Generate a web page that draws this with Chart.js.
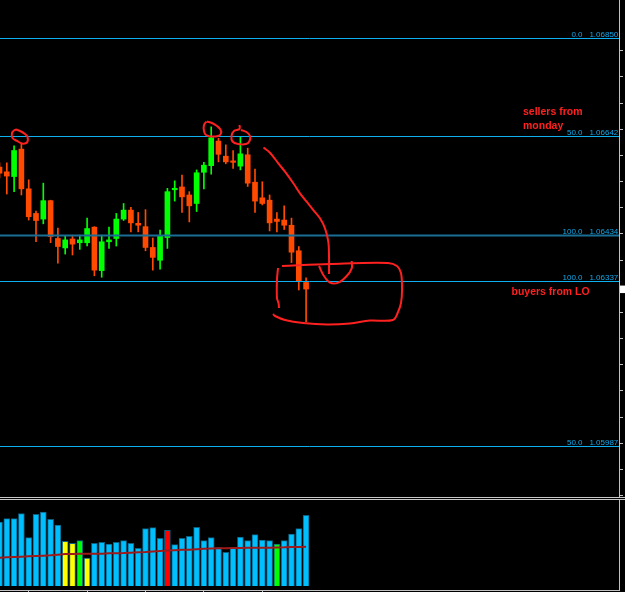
<!DOCTYPE html>
<html>
<head>
<meta charset="utf-8">
<script src="https://cdn.jsdelivr.net/npm/chart.js@4.4.0/dist/chart.umd.min.js"></script>
<style>
  html, body { margin: 0; padding: 0; background: #000; overflow: hidden; }
  #wrap { position: relative; width: 625px; height: 592px; }
  #boxPreco { position: absolute; left: 0; top: 0; width: 625px; height: 497px; }
  #boxVolume { position: absolute; left: 0; top: 500px; width: 625px; height: 94px; }
  .sep { position: absolute; left: 0; width: 625px; height: 1px; background: #c8c8c8; }
</style>
</head>
<body>
<div id="wrap">
  <div id="boxPreco"><canvas id="grafPreco"></canvas></div>
  <div class="sep" style="top:497px"></div>
  <div class="sep" style="top:499px"></div>
  <div id="boxVolume"><canvas id="grafVolume"></canvas></div>
</div>
<script>
// Velas (OHLC), uma por barra
const abertura = [1.06577, 1.06567, 1.06557, 1.06615, 1.06531, 1.06479, 1.06467, 1.06506, 1.06426, 1.06406,
  1.06425, 1.06417, 1.06417, 1.06450, 1.06358, 1.06419, 1.06426, 1.06467, 1.06486, 1.06458,
  1.06451, 1.06407, 1.06380, 1.06428, 1.06529, 1.06535, 1.06518, 1.06500, 1.06566, 1.06580,
  1.06632, 1.06600, 1.06590, 1.06579, 1.06603, 1.06545, 1.06512, 1.06507, 1.06467, 1.06465,
  1.06454, 1.06400, 1.06333];
const maxima = [1.06586, 1.06586, 1.06622, 1.06627, 1.06550, 1.06484, 1.06543, 1.06507, 1.06448, 1.06431,
  1.06433, 1.06433, 1.06469, 1.06451, 1.06433, 1.06450, 1.06479, 1.06500, 1.06492, 1.06481,
  1.06487, 1.06427, 1.06444, 1.06532, 1.06548, 1.06560, 1.06525, 1.06571, 1.06587, 1.06662,
  1.06638, 1.06624, 1.06612, 1.06641, 1.06617, 1.06573, 1.06546, 1.06518, 1.06481, 1.06495,
  1.06469, 1.06409, 1.06343];
const minima = [1.06554, 1.06520, 1.06525, 1.06518, 1.06465, 1.06419, 1.06457, 1.06417, 1.06374, 1.06393,
  1.06391, 1.06403, 1.06410, 1.06347, 1.06344, 1.06405, 1.06410, 1.06464, 1.06440, 1.06440,
  1.06400, 1.06359, 1.06361, 1.06405, 1.06505, 1.06481, 1.06461, 1.06483, 1.06531, 1.06562,
  1.06588, 1.06584, 1.06574, 1.06571, 1.06536, 1.06481, 1.06497, 1.06442, 1.06440, 1.06445,
  1.06375, 1.06317, 1.06250];
const fechamento = [1.06564, 1.06558, 1.06612, 1.06531, 1.06472, 1.06464, 1.06506, 1.06430, 1.06409, 1.06423,
  1.06414, 1.06423, 1.06447, 1.06359, 1.06419, 1.06423, 1.06467, 1.06486, 1.06459, 1.06454,
  1.06407, 1.06386, 1.06432, 1.06525, 1.06532, 1.06514, 1.06495, 1.06565, 1.06581, 1.06639,
  1.06604, 1.06588, 1.06587, 1.06605, 1.06543, 1.06505, 1.06500, 1.06459, 1.06462, 1.06454,
  1.06397, 1.06335, 1.06319];

// Volume de ticks e sua média
const volumes = [384, 404, 404, 434, 290, 430, 444, 400, 366, 268,
  256, 272, 168, 256, 262, 252, 262, 272, 256, 226,
  344, 350, 286, 334, 248, 286, 298, 352, 272, 290,
  230, 202, 230, 294, 272, 308, 276, 272, 252, 272,
  312, 344, 424];
const mediaVolume = [170, 172, 174, 176, 178, 180, 182, 184, 188, 192,
  192, 193, 193, 194, 194, 196, 197, 198, 200, 202,
  204, 207, 210, 213, 215, 217, 218, 221, 224, 225,
  226, 227, 228, 228, 229, 229, 230, 230, 231, 232,
  234, 234, 235];
// 0 = normal, 1 = baixo, 2 = alta, 3 = climax
const sinalVolume = [0, 0, 0, 0, 0, 0, 0, 0, 0, 1,
  1, 2, 1, 0, 0, 0, 0, 0, 0, 0,
  0, 0, 0, 3, 0, 0, 0, 0, 0, 0,
  0, 0, 0, 0, 0, 0, 0, 0, 2, 0,
  0, 0, 0];

// Níveis de Fibonacci
const fibPrecos = [1.06850, 1.06642, 1.06434, 1.06337, 1.05987];
const fibNiveis = ["0.0", "50.0", "100.0", "100.0", "50.0"];

// Marcas dos eixos
const marcasPreco = [1.06823, 1.06768, 1.06712, 1.06657, 1.06602, 1.06546, 1.06491, 1.06436, 1.06380,
  1.06325, 1.06270, 1.06214, 1.06159, 1.06104, 1.06048, 1.05993, 1.05938, 1.05882];
const marcasTempo = [4, 12, 20, 28, 36];

// Desenhos à mão (barra, preço)
const tracoCirculo1 = [[2.26, 1.066565], [2.81, 1.066533], [3.49, 1.06647], [3.84, 1.066406], [3.77, 1.06629],
  [3.08, 1.066269], [2.40, 1.066322], [1.78, 1.066385], [1.71, 1.066491], [1.99, 1.066544], [2.33, 1.066565]];
const tracoCirculo2 = [[28.42, 1.066734], [29.11, 1.066702], [29.79, 1.066639], [30.27, 1.066565], [30.34, 1.06648],
  [29.93, 1.066427], [28.97, 1.066417], [28.29, 1.066448], [28.01, 1.066533], [28.01, 1.06666], [28.36, 1.066734]];
const tracoCirculo3 = [[32.88, 1.06666], [32.88, 1.066575], [32.12, 1.066533], [31.78, 1.066427], [31.92, 1.066311],
  [32.67, 1.066258], [33.77, 1.066258], [34.25, 1.066322], [34.32, 1.066427], [33.84, 1.066512], [33.08, 1.066554]];
const tracoCurva = [[36.16, 1.066184], [37.05, 1.066074], [38.19, 1.06585], [39.11, 1.065672], [40.25, 1.065427],
  [41.16, 1.065215], [42.08, 1.065038], [42.99, 1.064862], [43.90, 1.064687], [44.59, 1.064475],
  [45.04, 1.064192], [45.14, 1.063875], [45.14, 1.063509]];
const tracoGancho = [[43.77, 1.063678], [44.36, 1.063487], [45.27, 1.063325], [46.41, 1.063325],
  [47.56, 1.063466], [48.25, 1.063629], [48.25, 1.063784]];
const tracoCaixa = [[38.70, 1.063678], [45.27, 1.06372], [53.22, 1.063741], [54.45, 1.063678], [55.0, 1.06353],
  [55.14, 1.06317], [55.0, 1.062895], [54.59, 1.062705], [53.90, 1.062536], [50.75, 1.062525],
  [48.01, 1.062462], [44.86, 1.06244], [41.58, 1.062472], [39.11, 1.062536], [37.74, 1.06262], [37.47, 1.062663]];
const tracoLadoEsq = [[38.15, 1.063636], [38.01, 1.063382], [38.01, 1.063001], [38.22, 1.062895], [38.29, 1.06279]];

// Janela visível
const X_MIN = 0.0685;
const X_MAX = 84.863;
const P_MAX = 1.0693037;
const P_MIN = 1.0587922;

const VERDE = "#00ff00";
const LARANJA = "#ff4a00";
const VERMELHO = "#ff2020";
const coresSinal = ["#00bfff", "#ffff00", "#00ff00", "#ff0000"];

const alta = abertura.map((o, i) => fechamento[i] >= o);

function traco(pontos) {
  return {
    type: "line",
    data: pontos.map((p) => ({ x: p[0], y: p[1] })),
    borderColor: VERMELHO,
    borderWidth: 2,
    pointRadius: 0,
    tension: 0.35,
    fill: false,
  };
}

const tracos = [tracoCirculo1, tracoCirculo2, tracoCirculo3, tracoCurva, tracoGancho, tracoCaixa, tracoLadoEsq].map(traco);
const IDX_CORPOS = tracos.length;

// Linhas de Fibonacci, desenhadas logo depois das velas
const pluginFibo = {
  id: "fibo",
  afterDatasetDraw(chart, args) {
    if (args.index !== IDX_CORPOS) return;
    const ctx = chart.ctx;
    const area = chart.chartArea;
    const y = chart.scales.y;
    ctx.save();
    fibPrecos.forEach((p, i) => {
      const py = Math.round(y.getPixelForValue(p)) + 0.5;
      const escuro = i === 2;
      ctx.strokeStyle = escuro ? "#1a6e96" : "#0fb0f0";
      ctx.lineWidth = escuro ? 2 : 1;
      ctx.beginPath();
      ctx.moveTo(area.left, py);
      ctx.lineTo(area.right, py);
      ctx.stroke();
      ctx.fillStyle = "#12a8e8";
      ctx.font = '8px "Liberation Sans"';
      ctx.textAlign = "right";
      ctx.textBaseline = "alphabetic";
      ctx.fillText(p.toFixed(5), area.right - 0.7, py - 2);
      ctx.fillText(fibNiveis[i], area.right - 36.5, py - 2);
    });
    ctx.restore();
  },
  afterDraw(chart) {
    const ctx = chart.ctx;
    const area = chart.chartArea;
    ctx.save();
    // Textos anotados
    ctx.fillStyle = VERMELHO;
    ctx.font = 'bold 10.5px "Liberation Sans"';
    ctx.textAlign = "left";
    ctx.fillText("sellers from", 523, 114.5);
    ctx.fillText("monday", 523, 128.5);
    ctx.fillText("buyers from LO", 511.5, 295);
    // Etiqueta do preço atual
    const py = chart.scales.y.getPixelForValue(fechamento[fechamento.length - 1]);
    ctx.fillStyle = "#ffffff";
    ctx.fillRect(area.right + 1, py - 3.5, 6, 7.5);
    ctx.restore();
  },
};

function graficoPreco() {
  const ctx = document.getElementById("grafPreco").getContext("2d");
  new Chart(ctx, {
    data: {
      datasets: [
        ...tracos,
        {
          type: "bar",
          data: abertura.map((o, i) => ({ x: i, y: [o, fechamento[i]] })),
          backgroundColor: alta.map((a) => (a ? VERDE : LARANJA)),
          borderWidth: 0,
          barThickness: 5,
          minBarLength: 1.5,
          grouped: false,
        },
        {
          type: "bar",
          data: minima.map((l, i) => ({ x: i, y: [l, maxima[i]] })),
          backgroundColor: alta.map((a) => (a ? VERDE : LARANJA)),
          borderWidth: 0,
          barThickness: 1,
          grouped: false,
        },
      ],
    },
    options: {
      responsive: true,
      maintainAspectRatio: false,
      animation: false,
      layout: { padding: { right: 2 } },
      plugins: { legend: { display: false }, tooltip: { enabled: false } },
      scales: {
        x: { type: "linear", min: X_MIN, max: X_MAX, offset: false, display: false },
        y: {
          position: "right",
          min: P_MIN,
          max: P_MAX,
          ticks: { display: false },
          grid: { drawOnChartArea: false, color: "#c0c0c0", tickLength: 4 },
          border: { color: "#c0c0c0" },
          afterBuildTicks: (s) => { s.ticks = marcasPreco.map((v) => ({ value: v })); },
        },
      },
    },
    plugins: [pluginFibo],
  });
}

function graficoVolume() {
  const ctx = document.getElementById("grafVolume").getContext("2d");
  new Chart(ctx, {
    data: {
      datasets: [
        {
          type: "line",
          data: mediaVolume.map((v, i) => ({ x: i, y: v })),
          borderColor: "#9e1a1a",
          borderWidth: 2,
          pointRadius: 0,
          tension: 0,
        },
        {
          type: "bar",
          data: volumes.map((v, i) => ({ x: i, y: v })),
          backgroundColor: sinalVolume.map((s) => coresSinal[s]),
          borderColor: "#0b5f80",
          borderWidth: 1,
          barThickness: 6,
          grouped: false,
        },
      ],
    },
    options: {
      responsive: true,
      maintainAspectRatio: false,
      animation: false,
      layout: { padding: { right: 2 } },
      plugins: { legend: { display: false }, tooltip: { enabled: false } },
      scales: {
        x: {
          type: "linear",
          min: X_MIN,
          max: X_MAX,
          offset: false,
          position: "bottom",
          ticks: { display: false },
          grid: { drawOnChartArea: false, offset: false, color: "#c0c0c0", tickLength: 4 },
          border: { color: "#c0c0c0" },
          afterBuildTicks: (s) => { s.ticks = marcasTempo.map((v) => ({ value: v })); },
        },
        y: {
          position: "right",
          min: -24,
          max: 516,
          ticks: { display: false },
          grid: { drawOnChartArea: false, color: "rgba(0,0,0,0)", tickLength: 4 },
          border: { color: "#c0c0c0" },
        },
      },
    },
  });
}

graficoPreco();
graficoVolume();
</script>
</body>
</html>
